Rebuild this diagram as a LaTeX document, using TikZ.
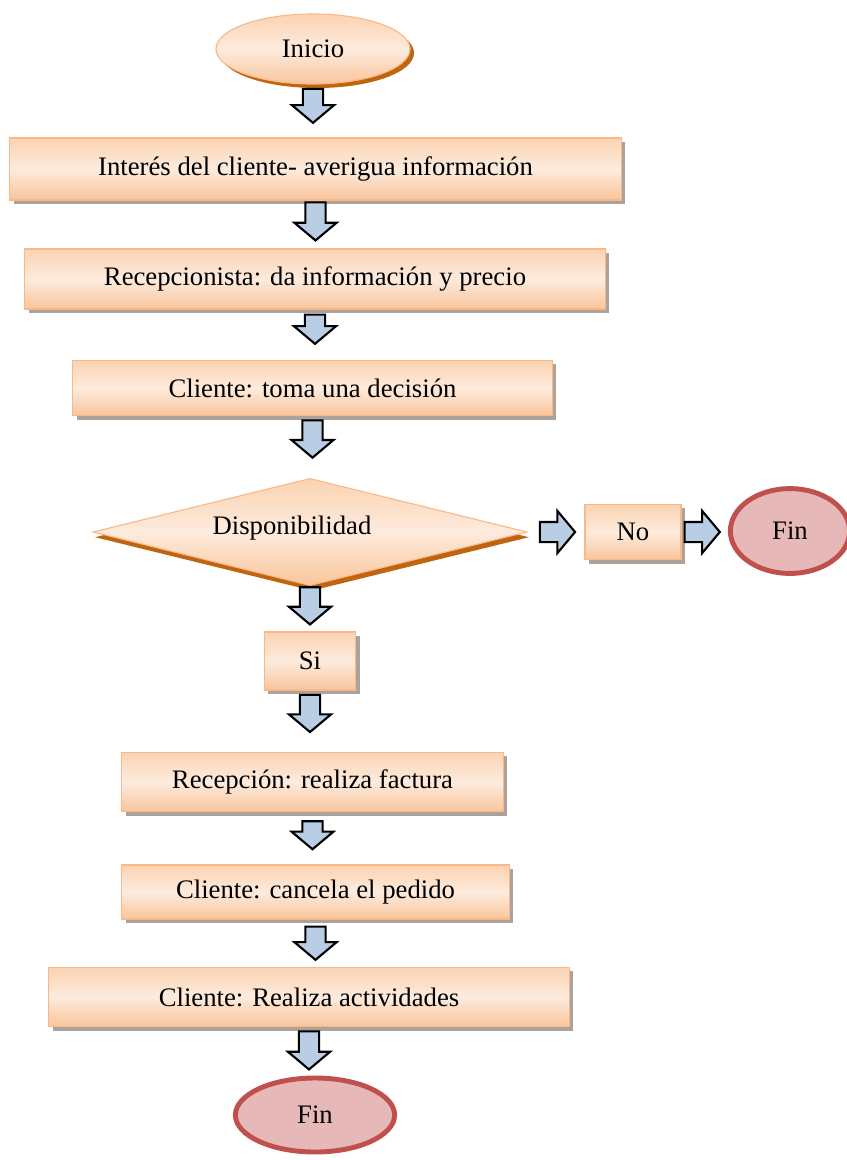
\documentclass[tikz,border=0pt]{standalone}
\usepackage{fontspec}
\setmainfont{Liberation Serif}
\usetikzlibrary{shapes.geometric,shapes.arrows,shadows}
\definecolor{peachtop}{HTML}{FBD3B2}
\definecolor{peachmid}{HTML}{FDEBDD}
\definecolor{peachbot}{HTML}{F9C59B}
\definecolor{peachline}{HTML}{F8B98A}
\definecolor{boxshade}{HTML}{ABA39B}
\definecolor{rustshade}{HTML}{C0640F}
\definecolor{arrowblue}{HTML}{B9CDE5}
\definecolor{finfill}{HTML}{E6B9B8}
\definecolor{finline}{HTML}{C0504D}
\tikzset{
  peach/.style={draw=peachline, line width=0.8pt, top color=peachtop, bottom color=peachbot, middle color=peachmid, inner sep=0pt},
  paso/.style={peach, rectangle, drop shadow={shadow xshift=0.1cm, shadow yshift=-0.1cm, fill=boxshade, opacity=1}},
  inicio/.style={peach, ellipse, drop shadow={shadow xshift=0.1cm, shadow yshift=-0.1cm, fill=rustshade, opacity=1}},
  decision/.style={peach, diamond, shape aspect=4, drop shadow={shadow xshift=0.05cm, shadow yshift=-0.13cm, fill=rustshade, opacity=1}},
  fin/.style={ellipse, draw=finline, fill=finfill, line width=3.5pt, inner sep=0pt},
  flecha/.style={single arrow, draw=black, fill=arrowblue, line width=1.5pt, minimum width=1cm, single arrow head extend=0.275cm, single arrow tip angle=100, inner xsep=0pt, inner ysep=0.225cm, anchor=tail},
  bajar/.style={flecha, rotate=-90},
}

\begin{document}
\begin{tikzpicture}[x=0.025cm, y=-0.025cm, font=\fontsize{19}{22}\selectfont]
  \useasboundingbox (0,0) rectangle (847,1160);
  % pasos del proceso
  \node[inicio, minimum width=4.85cm, minimum height=1.75cm] (inicio) at (313,49) {Inicio};
  \node[paso, minimum width=15.28cm, minimum height=1.55cm] (interes) at (315.5,169) {Interés del cliente- averigua información};
  \node[paso, minimum width=14.5cm, minimum height=1.5cm] (recep) at (315,279) {Recepcionista: da información y precio};
  \node[paso, minimum width=11.98cm, minimum height=1.38cm] (decide) at (312.5,388) {Cliente: toma una decisión};
  \node[decision, minimum width=10.85cm, minimum height=2.68cm,
        label={[xshift=-0.45cm, yshift=0.1cm]center:Disponibilidad}] (dispo) at (310,532) {};
  \node[paso, minimum width=2.4cm, minimum height=1.38cm] (no) at (633,532) {No};
  \node[fin, minimum width=2.98cm, minimum height=2.12cm] (fin1) at (790,531) {Fin};
  \node[paso, minimum width=2.28cm, minimum height=1.45cm] (si) at (310,661) {Si};
  \node[paso, minimum width=9.53cm, minimum height=1.48cm] (factura) at (312.5,782) {Recepción: realiza factura};
  \node[paso, minimum width=9.68cm, minimum height=1.35cm] (cancela) at (315.5,892) {Cliente: cancela el pedido};
  \node[paso, minimum width=13cm, minimum height=1.48cm] (activ) at (309,997) {Cliente: Realiza actividades};
  \node[fin, minimum width=3.98cm, minimum height=1.85cm] (fin2) at (315,1115) {Fin};
  % flechas de bloque
  \node[bajar, minimum height=0.85cm] (f1) at ([yshift=-0.08cm]inicio.south) {};
  \node[bajar, minimum height=0.95cm] (f2) at ([yshift=-0.02cm]interes.south) {};
  \node[bajar, minimum height=0.73cm] (f3) at ([yshift=-0.1cm]recep.south) {};
  \node[bajar, minimum height=0.93cm] (f4) at ([yshift=-0.08cm]decide.south) {};
  \node[bajar, minimum height=0.93cm] (f5) at (dispo.south) {};
  \node[bajar, minimum height=0.93cm] (f6) at ([yshift=-0.08cm]si.south) {};
  \node[bajar, minimum height=0.7cm] (f7) at ([yshift=-0.2cm]factura.south) {};
  \node[bajar, minimum height=0.83cm] (f8) at ([yshift=-0.15cm]cancela.south) {};
  \node[bajar, minimum height=0.95cm] (f9) at ([yshift=-0.08cm]activ.south) {};
  \node[flecha, minimum height=0.88cm] (g1) at ([xshift=0.28cm]dispo.east) {};
  \node[flecha, minimum height=0.88cm] (g2) at ([xshift=0.05cm]no.east) {};
\end{tikzpicture}
\end{document}
